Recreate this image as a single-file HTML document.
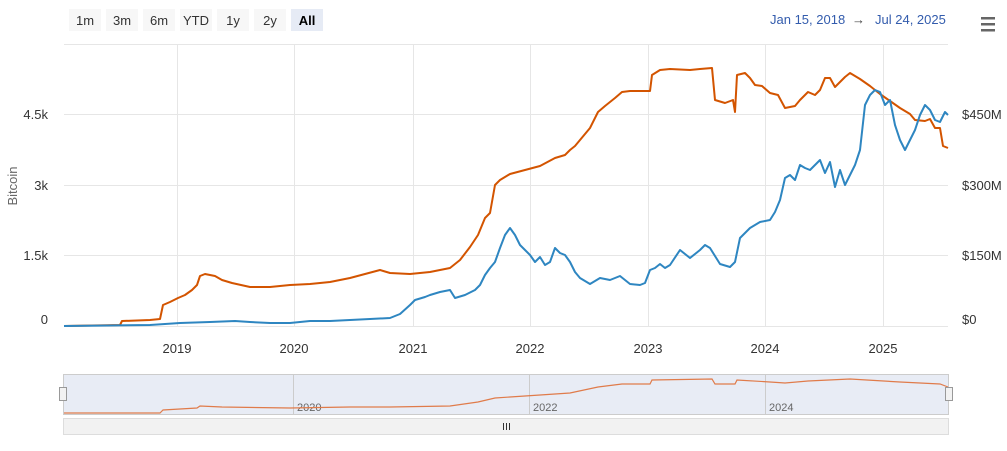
<!DOCTYPE html><html><head><style>body{margin:0;background:#fff;font-family:"Liberation Sans",sans-serif}</style></head><body>
<svg width="1007" height="446" xmlns="http://www.w3.org/2000/svg" font-family="Liberation Sans, sans-serif">
<g font-size="13" fill="#333">
<rect x="69" y="9" width="32" height="22" fill="#f7f7f7"/><text x="85" y="25" text-anchor="middle">1m</text>
<rect x="106" y="9" width="32" height="22" fill="#f7f7f7"/><text x="122" y="25" text-anchor="middle">3m</text>
<rect x="143" y="9" width="32" height="22" fill="#f7f7f7"/><text x="159" y="25" text-anchor="middle">6m</text>
<rect x="180" y="9" width="32" height="22" fill="#f7f7f7"/><text x="196" y="25" text-anchor="middle">YTD</text>
<rect x="217" y="9" width="32" height="22" fill="#f7f7f7"/><text x="233" y="25" text-anchor="middle">1y</text>
<rect x="254" y="9" width="32" height="22" fill="#f7f7f7"/><text x="270" y="25" text-anchor="middle">2y</text>
<rect x="291" y="9" width="32" height="22" fill="#e6ebf5"/><text x="307" y="25" text-anchor="middle" font-weight="bold" fill="#000">All</text>
</g>
<text x="770" y="24" font-size="13" fill="#335cad">Jan 15, 2018</text><text x="852" y="24" font-size="13" fill="#444">→</text><text x="875" y="24" font-size="13" fill="#335cad">Jul 24, 2025</text>
<g fill="#666"><rect x="981" y="17" width="14" height="2.5"/><rect x="981" y="23" width="14" height="2.5"/><rect x="981" y="29" width="14" height="2.5"/></g>
<g stroke="#e6e6e6" stroke-width="1">
<line x1="64" y1="44.5" x2="948" y2="44.5"/><line x1="64" y1="114.5" x2="948" y2="114.5"/><line x1="64" y1="185.5" x2="948" y2="185.5"/><line x1="64" y1="255.5" x2="948" y2="255.5"/><line x1="64" y1="326.5" x2="948" y2="326.5"/>
<line x1="177.5" y1="44" x2="177.5" y2="326"/><line x1="294.5" y1="44" x2="294.5" y2="326"/><line x1="413.5" y1="44" x2="413.5" y2="326"/><line x1="530.5" y1="44" x2="530.5" y2="326"/><line x1="648.5" y1="44" x2="648.5" y2="326"/><line x1="765.5" y1="44" x2="765.5" y2="326"/><line x1="883.5" y1="44" x2="883.5" y2="326"/>
</g>
<g font-size="13" fill="#333">
<text x="48" y="119" text-anchor="end">4.5k</text><text x="48" y="190" text-anchor="end">3k</text><text x="48" y="260" text-anchor="end">1.5k</text><text x="48" y="324" text-anchor="end">0</text>
<text x="962" y="119">$450M</text><text x="962" y="190">$300M</text><text x="962" y="260">$150M</text><text x="962" y="324">$0</text>
<g text-anchor="middle"><text x="177" y="353">2019</text><text x="294" y="353">2020</text><text x="413" y="353">2021</text><text x="530" y="353">2022</text><text x="648" y="353">2023</text><text x="765" y="353">2024</text><text x="883" y="353">2025</text></g>
</g>
<text transform="translate(17,186) rotate(-90)" font-size="13" fill="#666" text-anchor="middle">Bitcoin</text>
<polyline fill="none" stroke="#d35400" stroke-width="2" stroke-linejoin="round" points="64,326 120,325 122,321 150,320 160,319 163,305 170,302 178,298 185,295 192,290 197,285 200,276 205,274 215,276 222,280 232,283 250,287 270,287 290,285 310,284 330,282 350,278 365,274 380,270 390,273 410,274 430,272 450,268 460,260 470,247 478,235 485,218 490,213 495,185 500,180 510,174 525,170 540,166 555,158 565,155 570,150 575,146 580,140 590,128 598,112 605,106 615,98 622,92 630,91 650,91 652,75 660,70 670,69 690,70 700,69 712,68 715,100 725,103 733,100 735,112 737,75 745,73 750,78 755,85 762,86 770,93 778,95 785,108 795,106 800,100 808,92 815,95 820,90 825,78 830,78 835,87 845,77 850,73 860,79 870,86 880,94 890,101 900,108 910,114 915,120 925,121 930,119 935,128 940,128 943,146 948,148"/>
<polyline fill="none" stroke="#2e86c1" stroke-width="2" stroke-linejoin="round" points="64,326 150,325 180,323 210,322 235,321 250,322 270,323 290,323 310,321 330,321 350,320 370,319 390,318 400,314 410,305 415,300 425,297 430,295 440,292 450,290 455,298 465,295 475,290 480,285 485,275 490,268 495,262 500,248 505,235 510,228 515,235 520,245 525,250 530,255 535,262 540,257 545,265 550,262 555,248 560,253 565,255 570,262 575,272 580,278 590,284 600,278 610,280 620,276 630,284 640,285 645,283 650,270 655,268 660,264 665,268 670,265 680,250 690,258 700,250 705,245 710,248 720,264 730,267 735,262 740,238 750,228 760,222 770,220 775,212 780,200 785,178 790,175 795,180 800,165 805,168 810,170 815,165 820,160 825,173 830,162 835,187 840,170 845,185 850,175 855,165 860,150 865,105 870,95 875,90 880,92 885,105 890,100 895,125 900,140 905,150 910,140 915,130 920,115 925,105 930,110 935,120 940,122 945,112 948,115"/>
<rect x="63.5" y="374.5" width="885" height="40" fill="#e8ecf5" stroke="#ccc"/>
<g stroke="#ccc"><line x1="293.5" y1="375" x2="293.5" y2="414"/><line x1="529.5" y1="375" x2="529.5" y2="414"/><line x1="765.5" y1="375" x2="765.5" y2="414"/></g>
<g font-size="11" fill="#666"><text x="297" y="411">2020</text><text x="533" y="411">2022</text><text x="769" y="411">2024</text></g>
<polyline fill="none" stroke="#e07b4a" stroke-width="1.2" points="64,413 160,413 163,410 197,408 200,406 222,407 290,408 350,407 390,407 450,406 478,402 495,398 525,396 570,393 598,387 622,384 650,384 652,380 712,379 715,384 735,384 737,380 770,382 785,383 808,381 850,379 900,382 940,384 948,387"/>
<rect x="59.5" y="387.5" width="7" height="13" fill="#f2f2f2" stroke="#999"/><rect x="945.5" y="387.5" width="7" height="13" fill="#f2f2f2" stroke="#999"/>
<rect x="63.5" y="418.5" width="885" height="16" fill="#f2f2f2" stroke="#ddd"/>
<g stroke="#333"><line x1="503.5" y1="423" x2="503.5" y2="430"/><line x1="506.5" y1="423" x2="506.5" y2="430"/><line x1="509.5" y1="423" x2="509.5" y2="430"/></g>
</svg></body></html>
